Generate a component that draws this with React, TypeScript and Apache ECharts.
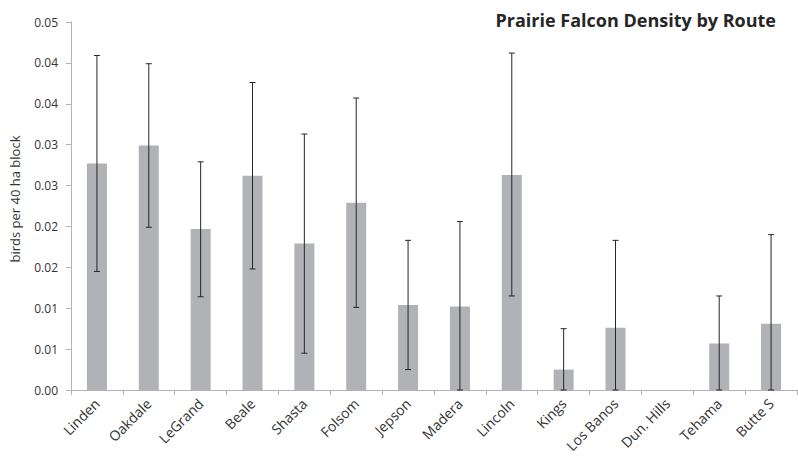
import React, { useEffect, useRef } from "react";
import * as echarts from "echarts";

const categories = ["Linden", "Oakdale", "LeGrand", "Beale", "Shasta", "Folsom", "Jepson", "Madera", "Lincoln", "Kings", "Los Banos", "Dun. Hills", "Tehama", "Butte S"];
const density = [0.0277, 0.0299, 0.0197, 0.0262, 0.0179, 0.0229, 0.0104, 0.0102, 0.0263, 0.0025, 0.0076, 0.0, 0.0057, 0.0081];
const errLow = [0.0145, 0.0199, 0.0114, 0.0148, 0.0045, 0.0101, 0.0025, 0.0, 0.0115, 0.0, 0.0, 0.0, 0.0, 0.0];
const errHigh = [0.0409, 0.0399, 0.0279, 0.0376, 0.0313, 0.0357, 0.0183, 0.0206, 0.0412, 0.0075, 0.0183, 0.0, 0.0115, 0.0190];
const yTickLabels = ["0.00", "0.01", "0.01", "0.02", "0.02", "0.03", "0.03", "0.04", "0.04", "0.05"];

const FONT = "'Open Sans', 'Noto Sans', sans-serif";

export default function App() {
  const ref = useRef<HTMLDivElement>(null);
  useEffect(() => {
    if (!ref.current) return;
    const chart = echarts.init(ref.current, null, { renderer: "svg" });
    const errData = categories.map((_, i) => [i, errLow[i], errHigh[i]]);
    chart.setOption({
      animation: false,
      title: {
        text: "Prairie Falcon Density by Route",
        right: 17,
        top: 6,
        textStyle: { fontFamily: FONT, fontWeight: "bold", fontSize: 18, color: "#262626" },
      },
      grid: { left: 66, right: 1, top: 22, bottom: 74, containLabel: false },
      xAxis: {
        type: "category",
        data: categories,
        axisLine: { lineStyle: { color: "#b3b3b3", width: 1 } },
        axisTick: { show: true, alignWithLabel: false, length: 5, lineStyle: { color: "#b3b3b3" } },
        axisLabel: { rotate: 45, fontFamily: FONT, fontSize: 14, color: "#333", margin: 11, interval: 0 },
      },
      yAxis: {
        type: "value",
        min: 0,
        max: 0.045,
        interval: 0.005,
        name: "birds per 40 ha block",
        nameLocation: "middle",
        nameGap: 50,
        nameTextStyle: { fontFamily: FONT, fontSize: 13, color: "#333", padding: [0, 0, 0, 14] },
        axisLine: { show: true, lineStyle: { color: "#b3b3b3" } },
        axisTick: { show: true, length: 5, lineStyle: { color: "#b3b3b3" } },
        splitLine: { show: false },
        axisLabel: {
          fontFamily: FONT,
          fontSize: 12,
          color: "#333",
          margin: 13,
          formatter: (v: number) => yTickLabels[Math.round(v / 0.005)] ?? "",
        },
      },
      series: [
        {
          type: "bar",
          data: density,
          barWidth: 20,
          itemStyle: { color: "#b1b2b6" },
        },
        {
          type: "custom",
          data: errData,
          renderItem: (params: any, api: any) => {
            const i = api.value(0);
            const lo = api.coord([i, api.value(1)]);
            const hi = api.coord([i, api.value(2)]);
            if (api.value(2) <= 0) return { type: "group", children: [] };
            const cap = 3;
            const style = { stroke: "#262626", lineWidth: 1 };
            return {
              type: "group",
              children: [
                { type: "line", shape: { x1: hi[0], y1: hi[1], x2: lo[0], y2: lo[1] }, style },
                { type: "line", shape: { x1: hi[0] - cap, y1: hi[1], x2: hi[0] + cap, y2: hi[1] }, style },
                { type: "line", shape: { x1: lo[0] - cap, y1: lo[1], x2: lo[0] + cap, y2: lo[1] }, style },
              ],
            };
          },
          z: 3,
        },
      ],
    });
    return () => chart.dispose();
  }, []);
  return <div ref={ref} style={{ width: 798, height: 464, position: "absolute", left: 0, top: 0 }} />;
}
